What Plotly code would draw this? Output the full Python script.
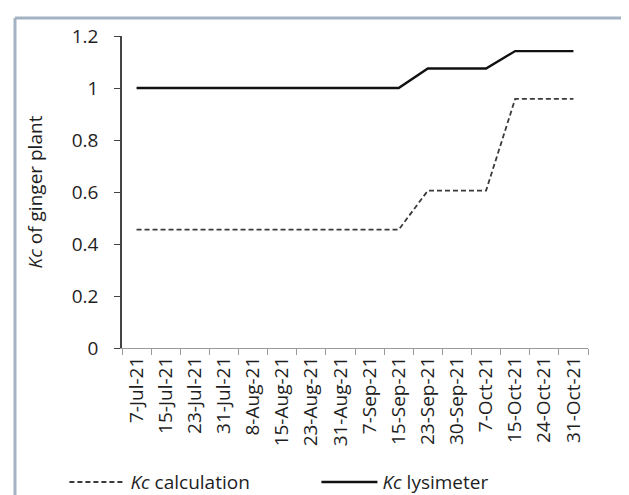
import plotly.graph_objects as go

dates = ["7-Jul-21", "15-Jul-21", "23-Jul-21", "31-Jul-21", "8-Aug-21", "15-Aug-21",
         "23-Aug-21", "31-Aug-21", "7-Sep-21", "15-Sep-21", "23-Sep-21", "30-Sep-21",
         "7-Oct-21", "15-Oct-21", "24-Oct-21", "31-Oct-21"]
kc_calculation = [0.455, 0.455, 0.455, 0.455, 0.455, 0.455, 0.455, 0.455, 0.455, 0.455,
                  0.605, 0.605, 0.605, 0.958, 0.958, 0.958]
kc_lysimeter = [1.0, 1.0, 1.0, 1.0, 1.0, 1.0, 1.0, 1.0, 1.0, 1.0,
                1.075, 1.075, 1.075, 1.142, 1.142, 1.142]
y_ticks = [0, 0.2, 0.4, 0.6, 0.8, 1, 1.2]
y_tick_text = ["0", "0.2", "0.4", "0.6", "0.8", "1", "1.2"]

fig = go.Figure()
fig.add_trace(go.Scatter(
    x=dates, y=kc_calculation, mode="lines", name="<i>Kc</i> calculation",
    line=dict(color="#3a3a3a", width=1.8, dash="5px,3px")))
fig.add_trace(go.Scatter(
    x=dates, y=kc_lysimeter, mode="lines", name="<i>Kc</i> lysimeter",
    line=dict(color="#111111", width=2.4)))

font_family = "Open Sans, Liberation Sans, sans-serif"
txt = "#1e1e1e"

fig.update_layout(
    width=629, height=495,
    margin=dict(l=114, r=49, t=28, b=155, autoexpand=False),
    paper_bgcolor="white", plot_bgcolor="white",
    font=dict(family=font_family, size=19, color=txt),
    showlegend=True,
    legend=dict(orientation="h", x=-0.1236, y=-0.43, xanchor="left", yanchor="middle",
                font=dict(size=19, color=txt), entrywidth=181,
                entrywidthmode="pixels", bgcolor="rgba(0,0,0,0)",
                itemwidth=56, tracegroupgap=0),
    xaxis=dict(
        type="category", tickangle=-90, tickson="boundaries", ticks="outside",
        ticklen=6, tickcolor="#9a9a9a", showline=True, linecolor="#9a9a9a", linewidth=1.2,
        showgrid=False, zeroline=False, tickfont=dict(size=19, color=txt),
        range=[-0.5, len(dates) - 0.5]),
    yaxis=dict(
        range=[0, 1.2], tickvals=y_ticks, ticktext=y_tick_text, ticks="outside",
        ticklen=6, tickcolor="#444444", showline=True, linecolor="#444444", linewidth=1.5,
        showgrid=False, zeroline=False, tickfont=dict(size=19, color=txt),
        ticklabelstandoff=12,
        title=dict(text="<i>Kc</i> of ginger plant", font=dict(size=19, color=txt),
                   standoff=24)),
)

# outer frame (decoration)
fig.add_shape(type="line", xref="paper", yref="paper", x0=-0.2296, x1=1.2, y0=1.0577, y1=1.0577,
              line=dict(color="#a3b3c3", width=3))
fig.add_shape(type="line", xref="paper", yref="paper", x0=-0.2296, x1=-0.2296, y0=1.0577, y1=-0.6,
              line=dict(color="#a3b3c3", width=3))

fig.write_html("out.html")
